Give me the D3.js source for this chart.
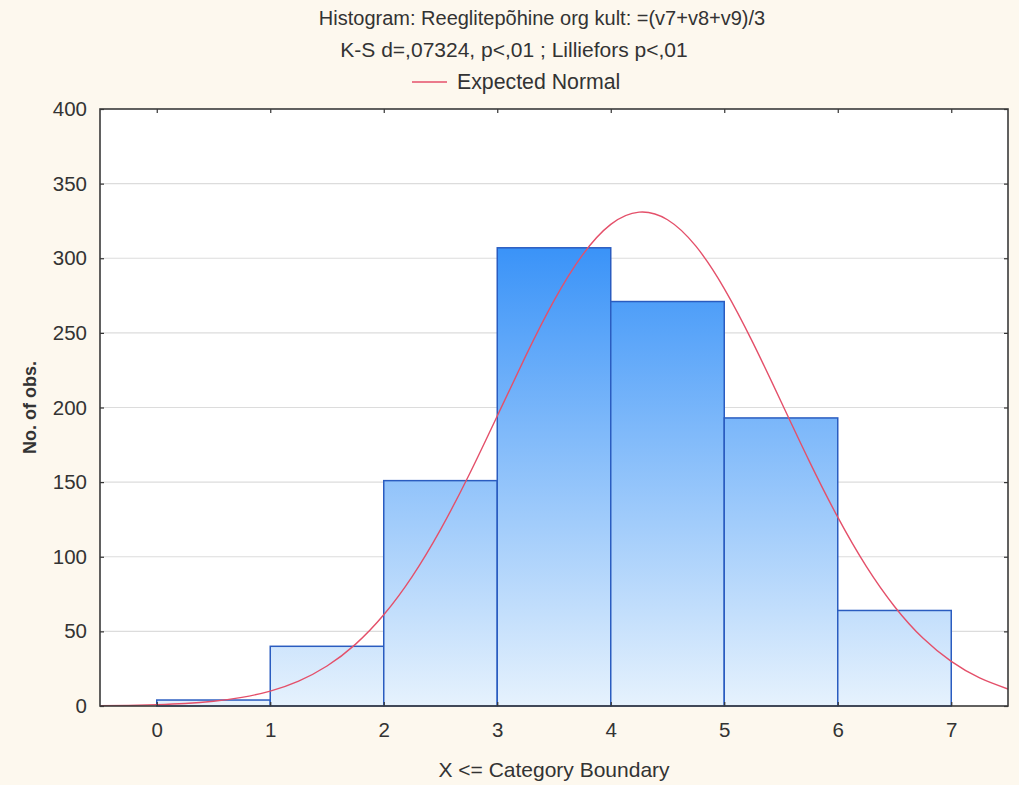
<!DOCTYPE html>
<html><head><meta charset="utf-8">
<script src="https://cdn.jsdelivr.net/npm/d3@7"></script>
<style>
html,body{margin:0;padding:0;background:#fdf8ee;}
svg{display:block;font-family:"Liberation Sans",Arial,sans-serif;}
</style></head>
<body><svg id="c" width="1019" height="785"></svg>
<script>
// Bin upper boundaries (X <= boundary) and counts
const binStarts = [0, 1, 2, 3, 4, 5, 6];
const binEnds   = [1, 2, 3, 4, 5, 6, 7];
const counts    = [4, 40, 151, 307, 271, 193, 64];
const xTicks = [0, 1, 2, 3, 4, 5, 6, 7];
const yTicks = [0, 50, 100, 150, 200, 250, 300, 350, 400];
// Expected normal curve
const curveX = [-0.5,-0.25,0,0.25,0.5,0.75,1,1.25,1.5,1.75,2,2.25,2.5,2.75,3,3.25,3.5,3.75,4,4.25,4.5,4.75,5,5.25,5.5,5.75,6,6.25,6.5,6.75,7,7.25,7.5];
const curveY = [0.2,0.4,0.9,1.7,3.2,5.8,10.0,16.7,26.8,41.3,61.1,86.7,118.2,154.6,194.3,234.4,271.6,302.1,322.7,330.9,325.8,308.1,279.7,243.8,204.0,163.9,126.5,93.7,66.7,45.5,29.9,18.8,11.4];
const title1 = "Histogram: Reeglitepõhine org kult: =(v7+v8+v9)/3";
const title2 = "K-S d=,07324, p<,01 ; Lilliefors p<,01";
const legendLabel = "Expected Normal";
const xLabel = "X <= Category Boundary";
const yLabel = "No. of obs.";

const svg = d3.select("#c");
const L = 100, R = 1008, T = 109, B = 706;
const x = d3.scaleLinear().domain([-0.5, 7.5]).range([L, R]);
const y = d3.scaleLinear().domain([0, 400]).range([B, T]);

const defs = svg.append("defs");
const g = defs.append("linearGradient").attr("id","bg").attr("gradientUnits","userSpaceOnUse")
  .attr("x1",0).attr("x2",0).attr("y1",y(d3.max(counts))).attr("y2",B);
g.append("stop").attr("offset","0%").attr("stop-color","#3a93f8");
g.append("stop").attr("offset","100%").attr("stop-color","#e6f2fd");
defs.append("clipPath").attr("id","clip").append("rect").attr("x",L).attr("y",T).attr("width",R-L).attr("height",B-T);

svg.append("rect").attr("x",L).attr("y",T).attr("width",R-L).attr("height",B-T).attr("fill","#fff");

// grid
svg.append("g").selectAll("line").data(yTicks.filter(d=>d>0 && d<400)).join("line")
  .attr("x1",L).attr("x2",R).attr("y1",d=>y(d)).attr("y2",d=>y(d))
  .attr("stroke","#dcdcdc").attr("stroke-width",1.2);

// bars
svg.append("g").selectAll("rect").data(counts).join("rect")
  .attr("x",(d,i)=>x(binStarts[i])).attr("width",(d,i)=>x(binEnds[i])-x(binStarts[i]))
  .attr("y",d=>y(d)).attr("height",d=>B-y(d))
  .attr("fill","url(#bg)").attr("stroke","#2a5cc0").attr("stroke-width",1.5);

// curve
const pts = curveX.map((v,i)=>[v,curveY[i]]);
svg.append("path").datum(pts).attr("clip-path","url(#clip)")
  .attr("d", d3.line().x(d=>x(d[0])).y(d=>y(d[1])).curve(d3.curveNatural))
  .attr("fill","none").attr("stroke","#e4506a").attr("stroke-width",1.4);

// axes
const fs = 20.5;
const ax = svg.append("g").attr("transform",`translate(0,${B})`).call(d3.axisBottom(x).tickValues(xTicks).tickSize(-4).tickPadding(16));
const ay = svg.append("g").attr("transform",`translate(${L},0)`).call(d3.axisLeft(y).tickValues(yTicks).tickSize(-4).tickPadding(13));
const at = svg.append("g").attr("transform",`translate(0,${T})`).call(d3.axisTop(x).tickValues(xTicks).tickSize(-4).tickFormat(""));
const ar = svg.append("g").attr("transform",`translate(${R},0)`).call(d3.axisRight(y).tickValues(yTicks).tickSize(-4).tickFormat(""));
[ax,ay,at,ar].forEach(a=>{
  a.select(".domain").remove();
  a.selectAll("line").attr("stroke","#333").attr("stroke-width",1.2);
  a.selectAll("text").attr("font-size",fs).attr("fill","#333").attr("font-family","Liberation Sans, Arial, sans-serif");
});
svg.append("rect").attr("x",L).attr("y",T).attr("width",R-L).attr("height",B-T)
  .attr("fill","none").attr("stroke","#3a3a3a").attr("stroke-width",1.6);

// titles
svg.append("text").attr("x",542).attr("y",25).attr("text-anchor","middle").attr("font-size",20).attr("fill","#333").text(title1);
svg.append("text").attr("x",514).attr("y",57).attr("text-anchor","middle").attr("font-size",21).attr("fill","#333").text(title2);
svg.append("line").attr("x1",412).attr("x2",447).attr("y1",82).attr("y2",82).attr("stroke","#e4506a").attr("stroke-width",1.6);
svg.append("text").attr("x",457).attr("y",89).attr("font-size",21.3).attr("fill","#333").text(legendLabel);

svg.append("text").attr("x",554).attr("y",777).attr("text-anchor","middle").attr("font-size",21).attr("fill","#333").text(xLabel);
svg.append("text").attr("transform",`translate(36,${(T+B)/2}) rotate(-90)`).attr("text-anchor","middle")
  .attr("font-size",18).attr("font-weight","bold").attr("fill","#333").text(yLabel);
</script></body></html>
